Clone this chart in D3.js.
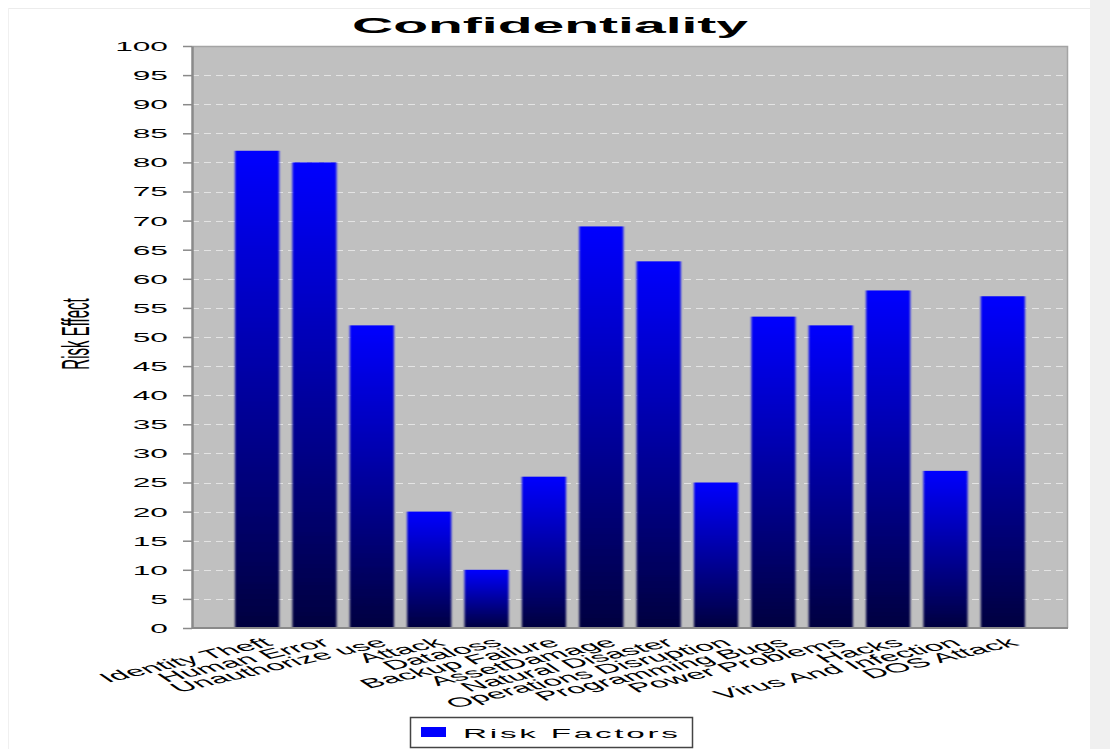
<!DOCTYPE html>
<html>
<head>
<meta charset="utf-8">
<script src="https://cdn.jsdelivr.net/npm/d3@7"></script>
<style>
  html, body { margin: 0; padding: 0; background: #ffffff; }
  svg { display: block; }
  text { font-family: "Liberation Sans", Arial, sans-serif; fill: #000; }
</style>
</head>
<body>
<svg id="chart" width="1110" height="749"></svg>
<script>
// Risk factors and their effect on confidentiality
const categories = [
  "Identity Theft", "Human Error", "Unauthorize use", "Attack", "Dataloss",
  "Backup Failure", "AssetDamage", "Natural Disaster", "Operations Disruption",
  "Programming Bugs", "Power Problems", "Hacks", "Virus And Infection", "DOS Attack"
];
const riskEffect = [82, 80, 52, 20, 10, 26, 69, 63, 25, 53.5, 52, 58, 27, 57];
const yTicks = [0, 5, 10, 15, 20, 25, 30, 35, 40, 45, 50, 55, 60, 65, 70, 75, 80, 85, 90, 95, 100];
const seriesName = "Risk Factors";
const chartTitle = "Confidentiality";
const yAxisTitle = "Risk Effect";

// The chart is rendered wide: text is stretched by these factors
const SX = 3.17, SY = 1.25;

const W = 1110, H = 749;
const plot = { left: 192, right: 1068, top: 46, bottom: 628 };

const svg = d3.select("#chart");

// page frame
svg.append("rect").attr("x", 1090).attr("y", 0).attr("width", 20).attr("height", H).attr("fill", "#f0f0f0");
svg.append("line").attr("x1", 8).attr("x2", 1090).attr("y1", 8.5).attr("y2", 8.5).attr("stroke", "#ececec");
svg.append("line").attr("x1", 8.5).attr("x2", 8.5).attr("y1", 8).attr("y2", H).attr("stroke", "#f0f0f0");

const defs = svg.append("defs");
const grad = defs.append("linearGradient")
  .attr("id", "barFill").attr("x1", 0).attr("y1", 0).attr("x2", 0).attr("y2", 1);
grad.append("stop").attr("offset", "0%").attr("stop-color", "#0000ff");
grad.append("stop").attr("offset", "100%").attr("stop-color", "#00003f");
defs.append("filter").attr("id", "soft").attr("x", "-10%").attr("width", "120%")
  .append("feGaussianBlur").attr("stdDeviation", "1.1 0.3");

const x = d3.scaleBand()
  .domain(categories)
  .range([plot.left, plot.right])
  .paddingInner(0.23)
  .paddingOuter(0.75);

const y = d3.scaleLinear().domain([0, 100]).range([plot.bottom, plot.top]);

// plot background
svg.append("rect")
  .attr("x", plot.left).attr("y", plot.top)
  .attr("width", plot.right - plot.left).attr("height", plot.bottom - plot.top)
  .attr("fill", "#c0c0c0");

// dashed gridlines
svg.append("g").selectAll("line")
  .data(yTicks.filter(d => d > 0 && d < 100))
  .join("line")
  .attr("x1", plot.left).attr("x2", plot.right)
  .attr("y1", d => Math.round(y(d)) + 0.5).attr("y2", d => Math.round(y(d)) + 0.5)
  .attr("stroke", "#e4e4e4").attr("stroke-width", 1)
  .attr("stroke-dasharray", "7,5");

// plot outline (top and right)
svg.append("path")
  .attr("d", `M${plot.left},${plot.top + 0.5}H${plot.right - 0.5}V${plot.bottom}`)
  .attr("fill", "none").attr("stroke", "#a4a4a4").attr("stroke-width", 1.5);

// bars
svg.append("g").attr("filter", "url(#soft)")
  .selectAll("rect")
  .data(categories.map((c, i) => ({ c, v: riskEffect[i] })))
  .join("rect")
  .attr("x", d => x(d.c))
  .attr("y", d => y(d.v))
  .attr("width", x.bandwidth())
  .attr("height", d => y(0) - y(d.v))
  .attr("fill", "url(#barFill)");

// y axis
const yAxis = svg.append("g")
  .attr("transform", `translate(${plot.left},0)`)
  .call(d3.axisLeft(y).tickValues(yTicks).tickSize(9).tickSizeOuter(0));
yAxis.select(".domain").attr("stroke", "#8a8a8a").attr("stroke-width", 2.5);
yAxis.selectAll(".tick line").attr("stroke", "#8a8a8a").attr("stroke-width", 1.5);
yAxis.selectAll(".tick text")
  .attr("x", null).attr("dy", null)
  .attr("font-size", 10)
  .attr("font-family", "Liberation Sans, Arial, sans-serif")
  .attr("fill", "#222")
  .attr("text-anchor", "end")
  .attr("dominant-baseline", "central")
  .attr("transform", `translate(-24,0) scale(${SX},${SY})`);

// x axis
const xAxis = svg.append("g")
  .attr("transform", `translate(0,${plot.bottom})`)
  .call(d3.axisBottom(x).tickSize(0).tickSizeOuter(0));
xAxis.select(".domain").attr("stroke", "#8a8a8a").attr("stroke-width", 2)
  .attr("d", `M${plot.left},0H${plot.right}`);
xAxis.selectAll(".tick text")
  .attr("y", null).attr("dy", null)
  .attr("font-size", 10.5)
  .attr("font-family", "Liberation Sans, Arial, sans-serif")
  .attr("fill", "#111")
  .attr("text-anchor", "end")
  .attr("transform", `translate(17,17) scale(${SX},${SY}) rotate(-30)`);

// title
svg.append("text")
  .attr("transform", `translate(550,33) scale(${SX},${SY})`)
  .attr("text-anchor", "middle")
  .attr("font-size", 18).attr("font-weight", "bold")
  .text(chartTitle);

// y axis title
svg.append("text")
  .attr("transform", `translate(89,334) scale(${SX},${SY}) rotate(-90)`)
  .attr("text-anchor", "middle")
  .attr("font-size", 12)
  .text(yAxisTitle);

// legend
const legend = svg.append("g");
legend.append("rect")
  .attr("x", 410.5).attr("y", 717.5).attr("width", 282).attr("height", 30)
  .attr("fill", "#fff").attr("stroke", "#444").attr("stroke-width", 1.5);
legend.append("rect")
  .attr("x", 421).attr("y", 727).attr("width", 25).attr("height", 10)
  .attr("fill", "#0000ff");
legend.append("text")
  .attr("transform", `translate(463,738) scale(${SX},${SY})`)
  .attr("font-size", 10.5)
  .attr("textLength", 215 / SX).attr("lengthAdjust", "spacing")
  .text(seriesName);
</script>
</body>
</html>
